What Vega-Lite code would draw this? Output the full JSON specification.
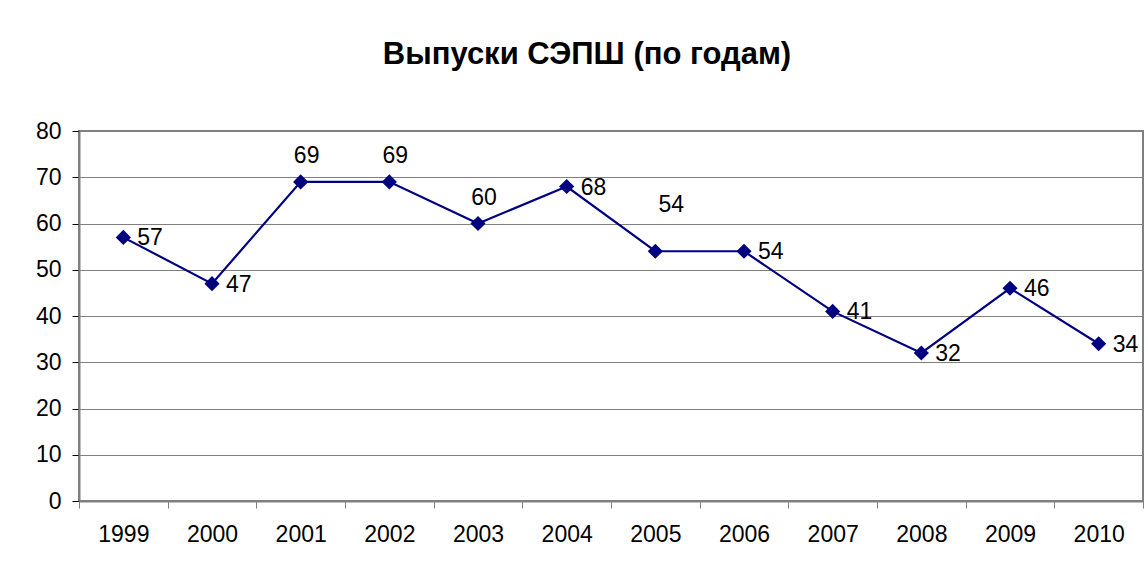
{
  "$schema": "https://vega.github.io/schema/vega-lite/v6.json",
  "width": 1064,
  "height": 370,
  "autosize": {"type": "none"},
  "padding": {"left": 79, "top": 131, "right": 5, "bottom": 65},
  "background": "white",
  "title": {
    "text": "Выпуски СЭПШ (по годам)",
    "font": "Liberation Sans",
    "fontSize": 31,
    "fontWeight": "bold",
    "color": "black",
    "anchor": "middle",
    "dx": -24,
    "offset": 18,
    "baseline": "bottom"
  },
  "data": {
    "values": [
      {"year": "1999", "value": 57},
      {"year": "2000", "value": 47},
      {"year": "2001", "value": 69},
      {"year": "2002", "value": 69},
      {"year": "2003", "value": 60},
      {"year": "2004", "value": 68},
      {"year": "2005", "value": 54},
      {"year": "2006", "value": 54},
      {"year": "2007", "value": 41},
      {"year": "2008", "value": 32},
      {"year": "2009", "value": 46},
      {"year": "2010", "value": 34}
    ]
  },
  "encoding": {
    "x": {
      "field": "year",
      "type": "ordinal",
      "scale": {"paddingInner": 0, "paddingOuter": 0},
      "axis": {
        "title": null,
        "labelAngle": 0,
        "labelFont": "Liberation Sans",
        "labelFontSize": 23,
        "labelColor": "black",
        "labelPadding": 15,
        "tickBand": "extent",
        "tickSize": 7,
        "tickColor": "#808080",
        "domainColor": "#808080",
        "domainWidth": 2,
        "grid": false
      }
    },
    "y": {
      "field": "value",
      "type": "quantitative",
      "scale": {"domain": [0, 80], "nice": false},
      "axis": {
        "title": null,
        "values": [0, 10, 20, 30, 40, 50, 60, 70, 80],
        "labelFont": "Liberation Sans",
        "labelFontSize": 23,
        "labelColor": "black",
        "labelPadding": 11,
        "tickSize": 7,
        "tickColor": "black",
        "domainColor": "#808080",
        "domainWidth": 2,
        "grid": true,
        "gridColor": "#808080",
        "gridWidth": 1
      }
    }
  },
  "layer": [
    {
      "mark": {"type": "line", "color": "#000080", "strokeWidth": 2.2}
    },
    {
      "mark": {"type": "point", "shape": "diamond", "filled": true, "color": "#000080", "size": 230, "opacity": 1}
    },
    {
      "transform": [{"filter": {"field": "year", "oneOf": ["1999", "2000", "2004", "2006", "2007", "2008", "2009", "2010"]}}],
      "mark": {"type": "text", "align": "left", "baseline": "middle", "dx": 14, "dy": 1, "font": "Liberation Sans", "fontSize": 23, "color": "black"},
      "encoding": {"text": {"field": "value", "type": "quantitative"}}
    },
    {
      "transform": [{"filter": {"field": "year", "oneOf": ["2001", "2002", "2003"]}}],
      "mark": {"type": "text", "align": "center", "baseline": "middle", "dx": 6, "dy": -26, "font": "Liberation Sans", "fontSize": 23, "color": "black"},
      "encoding": {"text": {"field": "value", "type": "quantitative"}}
    },
    {
      "transform": [{"filter": {"field": "year", "oneOf": ["2005"]}}],
      "mark": {"type": "text", "align": "center", "baseline": "middle", "dx": 16, "dy": -46, "font": "Liberation Sans", "fontSize": 23, "color": "black"},
      "encoding": {"text": {"field": "value", "type": "quantitative"}}
    }
  ],
  "config": {
    "view": {"stroke": "#808080", "strokeWidth": 2}
  }
}
